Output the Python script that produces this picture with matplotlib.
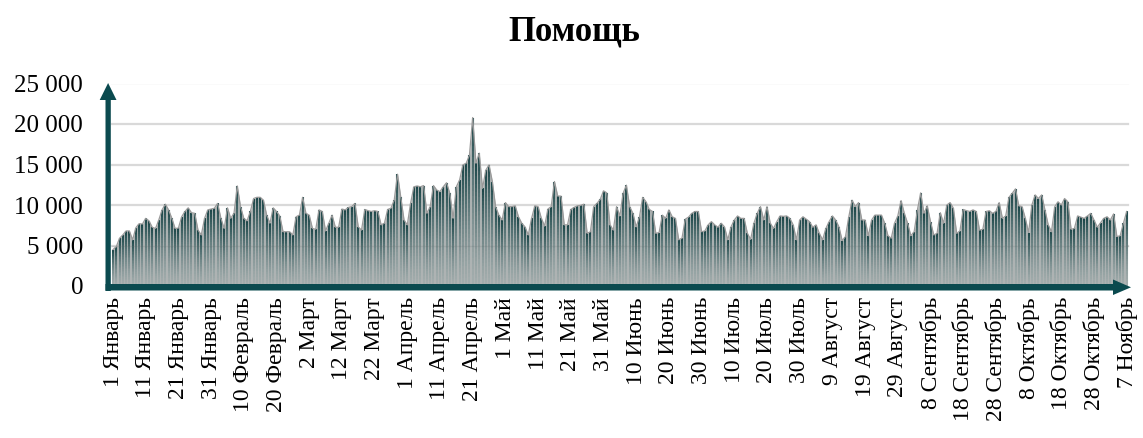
import matplotlib
matplotlib.use('Agg')
import matplotlib.pyplot as plt
import numpy as np
from matplotlib.collections import LineCollection
from matplotlib.patches import Polygon
import matplotlib.transforms as mtransforms

# ---------------- data ----------------
values_part1 = [
    4500, 4850, 5900, 6300, 6800, 6800, 5700, 7200, 7700, 7650,
    8350, 8050, 7250, 7100, 8150, 9400, 10100, 9400, 8350, 7100,
    7150, 8550, 9200, 9650, 9050, 8970, 6900, 6300, 8350, 9400,
    9500, 9600, 10200, 8350, 7100, 9650, 8350, 8970, 12350, 9800,
    8350, 8050, 9200, 10800, 10950, 10950, 10600, 8750, 7750, 9650,
    9200, 8650, 6700, 6700, 6700, 6300, 8550, 8750, 10950, 8970,
    8750, 7100, 7000, 9400, 9200, 6800, 7750, 8750, 7250, 7250,
    9500, 9400, 9700, 9800, 10200, 7300, 6900, 9450, 9300, 9200,
    9300, 9200, 7550, 7750, 9450, 9600, 10600, 13800, 11000, 8150,
    7550, 10200, 12250, 12350, 12250, 12400, 8970, 9800, 12400, 11850,
    11650, 12250, 12750]
values_part2 = [
    11450, 8350, 12250, 13100, 14950, 15150, 16150, 20800, 15150, 16400,
    12050, 14300, 14950, 12900, 9800, 8750, 8150, 10300, 9800, 9800,
    9900, 8550, 7750, 7300, 6300, 8350, 9900, 9800, 8350, 7400,
    9500, 9800, 12900, 11100, 11100, 7550, 7550, 9450, 9700, 9900,
    9950, 10100, 6500, 6700, 9800, 10200, 10700, 11750, 11500, 7550,
    6900, 9800, 8650, 11450, 12450, 9800, 8970, 7300, 8550, 10950,
    10400, 9450, 9200, 6500, 6600, 8750, 8350, 9400, 8550, 8350,
    5700, 5900, 8250, 8500, 8970, 9200, 9200, 6700, 6800, 7550,
    7950, 7550, 7250, 7750, 7300, 5700, 7300, 8150, 8650, 8350,
    8350, 6500, 5750, 7750, 8970, 9800, 8150, 9800, 7750, 7100,
    7950, 8650, 8600]
values_part3 = [
    8650, 8350, 7550, 5700, 8150, 8550, 8250, 7950, 7250, 7550,
    6500, 5700, 7100, 7950, 8650, 8150, 7300, 5600, 6100, 8500,
    10600, 9800, 10300, 8150, 8150, 6200, 8150, 8750, 8750, 8750,
    7750, 6200, 5900, 7750, 8650, 10550, 8970, 7750, 6200, 6700,
    9400, 11500, 8970, 9900, 7950, 6300, 6500, 9050, 7750, 10000,
    10300, 9600, 6500, 6800, 9450, 9300, 9200, 9400, 9200, 6900,
    7000, 9200, 9300, 8970, 9200, 10300, 8350, 8650, 10950, 11450,
    12000, 9900, 9800, 8350, 6600, 10000, 11250, 10800, 11250, 9400,
    7550, 6700, 9800, 10400, 10000, 10800, 10400, 7000, 7100, 8650,
    8500, 8350, 8650, 8970, 8150, 7250, 7800, 8350, 8550, 8150,
    8900, 6100, 6200, 7750, 9200]
values = values_part1 + values_part2 + values_part3

tick_labels = ["1 Январь", "11 Январь", "21 Январь", "31 Январь", "10 Февраль",
               "20 Февраль", "2 Март", "12 Март", "22 Март", "1 Апрель",
               "11 Апрель", "21 Апрель", "1 Май", "11 Май", "21 Май", "31 Май",
               "10 Июнь", "20 Июнь", "30 Июнь", "10 Июль", "20 Июль", "30 Июль",
               "9 Август", "19 Август", "29 Август", "8 Сентябрь", "18 Сентябрь",
               "28 Сентябрь", "8 Октябрь", "18 Октябрь", "28 Октябрь", "7 Ноябрь"]
tick_step = 10
y_ticks = [0, 5000, 10000, 15000, 20000, 25000]
y_tick_labels = ["0", "5 000", "10 000", "15 000", "20 000", "25 000"]
title = "Помощь"

# ---------------- figure ----------------
plt.rcParams['font.family'] = ['Liberation Serif', 'DejaVu Serif']
W, H = 1143, 438
fig = plt.figure(figsize=(W / 100, H / 100), dpi=100)

left_px, right_px = 108, 1130
top_px, bot_px = 83.5, 286
ax = fig.add_axes([left_px / W, (H - bot_px) / H,
                   (right_px - left_px) / W, (bot_px - top_px) / H])
n = len(values)
ppd = 3.27
x0 = -(113 - left_px) / ppd
x1 = x0 + (right_px - left_px) / ppd
ax.set_xlim(x0, x1)
ax.set_ylim(0, 25000)

for s in ax.spines.values():
    s.set_visible(False)

# gridlines
for yv in y_ticks[1:]:
    ax.plot([x0 + 1.2, n - 0.5], [yv, yv], color='#d9d9d9', lw=1.6, zorder=0)

x = np.arange(n)
v = np.array(values, dtype=float)
# area (gap colour)
ax.fill_between(x, v, 0, color='#afb4b4', lw=0, zorder=1)

# gradient bars
N = 30
segs, cols = [], []
top_c = np.array([0.10, 0.27, 0.28])
bot_c = np.array([0.64, 0.68, 0.68])
for i, val in enumerate(values):
    ys = np.linspace(0, val, N + 1)
    for k in range(N):
        t = (k + 0.5) / N
        c = bot_c + (top_c - bot_c) * t ** 1.4
        segs.append([(i, ys[k]), (i, ys[k + 1])])
        cols.append(c)
lc = LineCollection(segs, colors=cols, linewidths=1.5, capstyle='butt', zorder=2)
ax.add_collection(lc)
ax.plot(x, v, color='#9a9a9a', lw=0.9, zorder=3)

# faint gridline visible through
ax.plot([x0 + 1.2, n - 0.5], [5000, 5000], color='#5f6a6a', lw=1.0, alpha=0.18, zorder=4)

# ticks
ax.set_yticks(y_ticks)
ax.set_yticklabels(y_tick_labels, fontsize=18)
ax.set_xticks(list(range(0, n, tick_step)))
ax.set_xticklabels(tick_labels, rotation=90, fontsize=17, va='top', ha='center')
ax.tick_params(axis='y', length=0, pad=18)
ax.tick_params(axis='x', length=0, pad=8)

# arrows in pixel coordinates (origin top-left)
pix = mtransforms.Affine2D().scale(1 / W, -1 / H).translate(0, 1) + fig.transFigure
arrow_c = '#0b4a4f'
yarrow = [(105.5, 291), (110.8, 291), (110.8, 100), (116.5, 100), (108.1, 83),
          (99.7, 100), (105.5, 100)]
xarrow = [(105.5, 284), (1113, 284), (1113, 279.5), (1131, 287.3), (1113, 295),
          (1113, 290.5), (105.5, 290.5)]
fig.patches.append(Polygon(yarrow, closed=True, transform=pix, color=arrow_c, lw=0, zorder=5))
fig.patches.append(Polygon(xarrow, closed=True, transform=pix, color=arrow_c, lw=0, zorder=5))

fig.text(574 / W, 1 - 32 / H, title, ha='center', va='center', fontsize=25,
         fontweight='bold')

fig.savefig('out.png', dpi=100)
